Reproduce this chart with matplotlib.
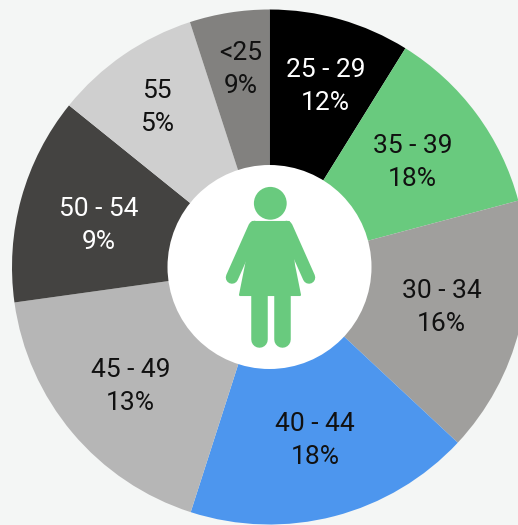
import numpy as np
import matplotlib
matplotlib.use("Agg")
import matplotlib.pyplot as plt
from matplotlib.patches import Circle, Polygon

plt.rcParams['font.family'] = ['Roboto', 'DejaVu Sans']

# clockwise from 12 o'clock
categories = ["25 - 29", "35 - 39", "30 - 34", "40 - 44", "45 - 49", "50 - 54", "55", "<25"]
label_pct = ["12%", "18%", "16%", "18%", "13%", "9%", "5%", "9%"]
# slice sizes as drawn, they don't follow the printed percentages
slice_sizes = [8.85, 12, 16.1, 18, 17.85, 13, 9.2, 5]

colors = ["#000000", "#69ca7e", "#a09f9d", "#4d96ee", "#b6b6b6", "#444341", "#cfcfcf", "#82817f"]
text_colors = ["white", "#111111", "#111111", "#111111", "#111111", "white", "#111111", "#111111"]
label_dist = [0.74, 0.69, 0.685, 0.685, 0.71, 0.685, 0.765, 0.78]
# small nudges in pixels, labels aren't exactly on the slice middle
nudge_x = [4, 0, 1, 1, 1, -1, -1, 3]
nudge_y = [-2.5, -1, 2.5, -2.5, -1.5, -6, -2.5, -0.5]

W, H = 518, 525
green = "#69ca7e"
cx, cy = 269.5, 258
R = 257.5

fig = plt.figure(figsize=(W / 100, H / 100), dpi=100, facecolor="#f4f6f5")
ax = fig.add_axes([0, 0, 1, 1])

wedges, _ = ax.pie(slice_sizes, colors=colors, startangle=90, counterclock=False,
                   center=(cx, cy), radius=R, frame=True)
ax.set_xlim(0, W)
ax.set_ylim(0, H)
ax.set_aspect("equal")
ax.axis("off")

for i, w in enumerate(wedges):
    mid = np.deg2rad((w.theta1 + w.theta2) / 2)
    x = cx + label_dist[i] * R * np.cos(mid) + nudge_x[i]
    y = cy + label_dist[i] * R * np.sin(mid) + nudge_y[i]
    ax.text(x, y, categories[i] + "\n" + label_pct[i], color=text_colors[i],
            fontsize=19, ha="center", va="center", linespacing=1.48)

ax.add_patch(Circle((cx, cy), 102, fc="white", ec="none", zorder=3))


def px(x, y):
    # pixel position from the top left of the image
    return x, H - y


lw_arm = 12.5 * 72 / 100
lw_leg = 16.5 * 72 / 100

ax.add_patch(Circle(px(270.3, 203.3), 16.4, fc=green, ec="none", zorder=4))
torso = [(252.5, 222), (289, 222), (294, 265), (300, 295), (240, 295), (246, 265)]
ax.add_patch(Polygon([px(*p) for p in torso], closed=True, fc=green, ec=green, lw=1.5,
                     joinstyle="round", zorder=4))
for (x0, y0), (x1, y1) in [((254.5, 227), (232, 277.5)), ((286.5, 227), (309, 277.5))]:
    ax.plot(*zip(px(x0, y0), px(x1, y1)), color=green, lw=lw_arm, solid_capstyle="round", zorder=4)
for x in [258.5, 281.5]:
    ax.plot(*zip(px(x, 295), px(x, 339)), color=green, lw=lw_leg, solid_capstyle="round", zorder=4)

fig.savefig("out.png", dpi=100, facecolor=fig.get_facecolor())
